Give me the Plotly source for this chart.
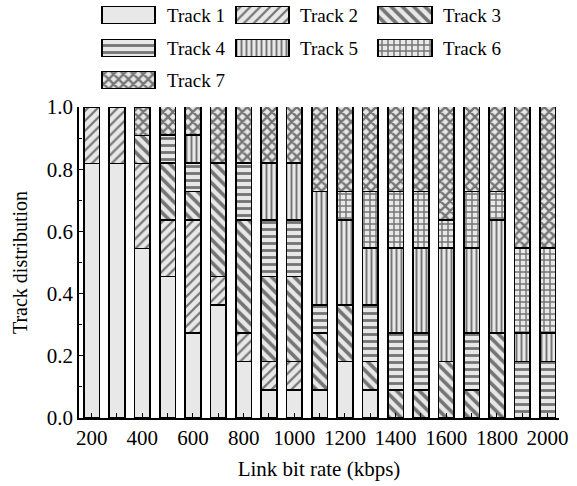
import plotly.graph_objects as go

# ---------------- data ----------------
rates = [200, 300, 400, 500, 600, 700, 800, 900, 1000, 1100,
         1200, 1300, 1400, 1500, 1600, 1700, 1800, 1900, 2000]

track1 = [0.818, 0.818, 0.545, 0.455, 0.273, 0.364, 0.182, 0.091, 0.091, 0.091,
          0.182, 0.091, 0, 0, 0, 0, 0, 0, 0]
track2 = [0.182, 0.182, 0.273, 0.182, 0.364, 0.091, 0.091, 0.091, 0.091, 0,
          0, 0, 0, 0, 0, 0, 0, 0, 0]
track3 = [0, 0, 0.091, 0.182, 0.091, 0.364, 0.364, 0.273, 0.273, 0.182,
          0.182, 0.091, 0.091, 0.091, 0.182, 0.091, 0.273, 0, 0]
track4 = [0, 0, 0, 0.091, 0.091, 0, 0.182, 0.182, 0.182, 0.091,
          0, 0.182, 0.182, 0.182, 0, 0.182, 0, 0.182, 0.182]
track5 = [0, 0, 0, 0, 0.091, 0, 0, 0.182, 0.182, 0.364,
          0.273, 0.182, 0.273, 0.273, 0.364, 0.273, 0.364, 0.091, 0.091]
track6 = [0, 0, 0, 0, 0, 0, 0, 0, 0, 0,
          0.091, 0.182, 0.182, 0.182, 0.091, 0.182, 0.091, 0.273, 0.273]
track7 = [0, 0, 0.091, 0.091, 0.091, 0.182, 0.182, 0.182, 0.182, 0.273,
          0.273, 0.273, 0.273, 0.273, 0.364, 0.273, 0.273, 0.455, 0.455]

series_names = ["Track 1", "Track 2", "Track 3", "Track 4", "Track 5", "Track 6", "Track 7"]
series_vals = [track1, track2, track3, track4, track5, track6, track7]

# ---------------- styles ----------------
FILL = "#e8e8e8"
patterns = [
    dict(shape=""),
    dict(shape="/", size=7, solidity=0.32),
    dict(shape="\\", size=8, solidity=0.45),
    dict(shape="-", size=7, solidity=0.4),
    dict(shape="|", size=5, solidity=0.38),
    dict(shape="+", size=6, solidity=0.42),
    dict(shape="x", size=7, solidity=0.55),
]
FONT = "Liberation Serif, Times New Roman, DejaVu Serif, serif"

W, H = 577, 486
ML, MR, MT, MB = 79, 18, 0, 68
plot_h = H - MT - MB
main_top_px = 107
main_dom_top = (H - MB - main_top_px) / plot_h
leg_dom_bottom = main_dom_top + 0.005
leg_bottom_px = MT + plot_h * (1 - leg_dom_bottom)

fig = go.Figure()

for name, vals, pat in zip(series_names, series_vals, patterns):
    p = dict(pat)
    p.update(fgcolor="black", fillmode="overlay")
    fig.add_trace(go.Bar(
        x=rates, y=vals, name=name, width=62,
        marker=dict(color=FILL, line=dict(color="black", width=1.6), pattern=p),
        showlegend=False,
    ))

# ---------------- custom legend (drawn on a pixel-scaled helper axis) ----------------
leg_cols_box = [(102, 155), (236, 289), (378, 432)]
leg_cols_text = [165, 298, 441]
leg_rows_center = [15, 48, 80]
box_h = 17

for i, (name, pat) in enumerate(zip(series_names, patterns)):
    r, c = divmod(i, 3)
    x0, x1 = leg_cols_box[c]
    yc = leg_rows_center[r]
    p = dict(pat)
    p.update(fgcolor="black", fillmode="overlay")
    fig.add_trace(go.Bar(
        x=[(x0 + x1) / 2], y=[box_h], base=[yc - box_h / 2], width=[x1 - x0],
        xaxis="x2", yaxis="y2",
        marker=dict(color=FILL, line=dict(color="black", width=1.6), pattern=p),
        showlegend=False, hoverinfo="skip",
    ))
    fig.add_annotation(
        x=leg_cols_text[c], y=yc, xref="x2", yref="y2", text=name,
        showarrow=False, xanchor="left", yanchor="middle",
        font=dict(family=FONT, size=19, color="black"),
    )

fig.update_layout(
    width=W, height=H,
    margin=dict(l=ML, r=MR, t=MT, b=MB, autoexpand=False),
    paper_bgcolor="white", plot_bgcolor="white",
    barmode="stack",
    font=dict(family=FONT, size=21, color="black"),
    xaxis=dict(
        range=[150, 2045], tickmode="linear", tick0=200, dtick=200,
        ticks="inside", ticklen=5, tickwidth=1.2, tickcolor="black",
        minor=dict(dtick=100, tick0=200, ticks="inside", ticklen=5, tickwidth=1.2, tickcolor="black"),
        showline=True, linecolor="black", linewidth=1.6,
        showgrid=False, zeroline=False, automargin=False,
        tickfont=dict(family=FONT, size=21),
        title=dict(text="Link bit rate (kbps)", font=dict(family=FONT, size=21), standoff=12),
    ),
    yaxis=dict(
        domain=[0, main_dom_top],
        range=[0, 1.0], tickmode="linear", tick0=0, dtick=0.2, tickformat=".1f",
        ticks="inside", ticklen=5, tickwidth=1.2, tickcolor="black",
        minor=dict(dtick=0.1, ticks="inside", ticklen=3, tickwidth=1.2, tickcolor="black"),
        showline=True, linecolor="black", linewidth=1.6,
        showgrid=False, zeroline=False, automargin=False,
        tickfont=dict(family=FONT, size=21),
        title=dict(text="Track distribution", font=dict(family=FONT, size=20), standoff=14),
    ),
    xaxis2=dict(domain=[0, 1], range=[ML, W - MR], anchor="y2", visible=False, fixedrange=True),
    yaxis2=dict(domain=[leg_dom_bottom, 1], range=[leg_bottom_px, MT], anchor="x2",
                visible=False, fixedrange=True),
)

# remove the browser's default 8px page margin so the figure sits at the window corner
fig.write_html("out.html", config={"displayModeBar": False},
               post_script="document.body.style.margin='0';")
